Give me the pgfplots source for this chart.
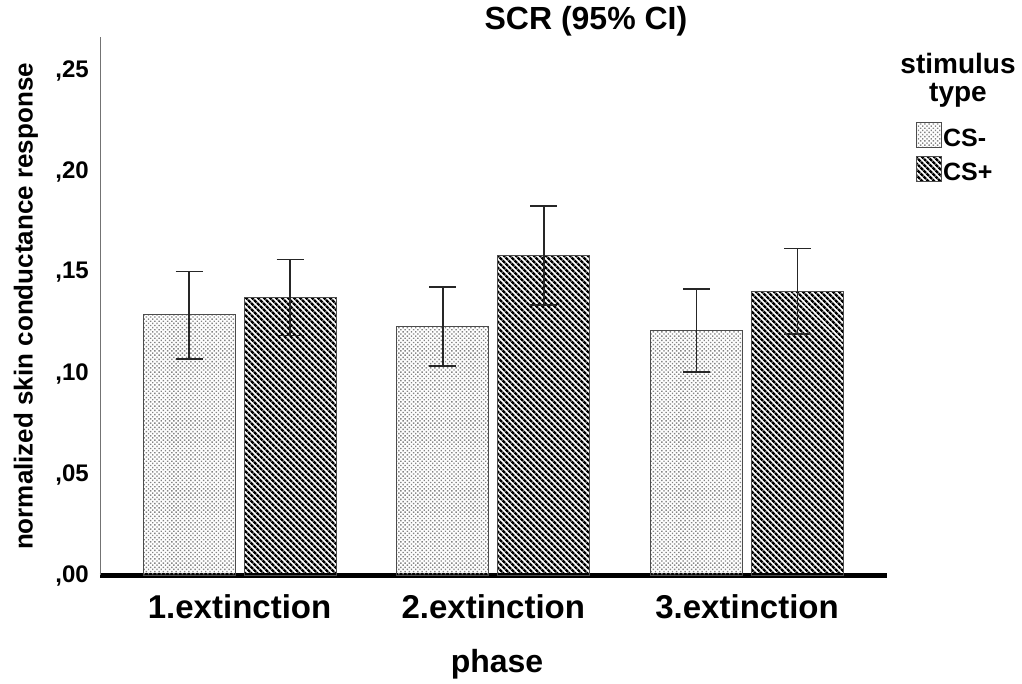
\documentclass[border=0pt]{standalone}
\usepackage{pgfplots}
\pgfplotsset{compat=1.18}
\usepackage{fontspec}
\setmainfont{Liberation Sans}
\usetikzlibrary{patterns.meta}

% bar fills for the two stimulus types
\tikzset{
  csminus/.style={draw=black!70, line width=1pt,
    pattern={Dots[distance=3pt, radius=1pt, angle=45]}, pattern color=black!48},
  csplus/.style={draw=black!70, line width=1pt,
    pattern={Lines[angle=-45, distance=4pt, line width=2.6pt]}, pattern color=black},
}
% square legend swatch
\pgfplotsset{
  boxlegend/.style={legend image code/.code={\draw[##1] (0pt,-1pt) rectangle (25pt,24pt);}},
}

\begin{document}
\begin{tikzpicture}
\useasboundingbox (-100pt,-108.5pt) rectangle (922pt,575.5pt);
\begin{axis}[
  at={(0pt,0pt)}, anchor=south west,
  scale only axis, width=787pt, height=538pt,
  xmin=0.45, xmax=3.5515, ymin=0, ymax=0.26634,
  ybar=9pt, bar width=92pt,
  axis x line=bottom, axis y line=left,
  x axis line style={-, line width=4.5pt, black},
  y axis line style={-, line width=0.9pt, black!55},
  major tick length=0pt,
  xtick={1,2,3},
  xticklabels={{\textbf{1.extinction}},{\textbf{2.extinction}},{\textbf{3.extinction}}},
  xticklabel style={font=\bfseries\fontsize{33}{38}\selectfont, anchor=base, yshift=-43.5pt},
  ytick={0,0.05,0.10,0.15,0.20,0.25},
  yticklabels={{\textbf{,00}},{\textbf{,05}},{\textbf{,10}},{\textbf{,15}},{\textbf{,20}},{\textbf{,25}}},
  yticklabel style={font=\bfseries\fontsize{24}{28}\selectfont, inner sep=0pt, xshift=-11pt},
  every axis y label/.style={at={(axis description cs:-0.094,0.5)}, rotate=90, anchor=center},
  ylabel={\textbf{normalized skin conductance response}},
  ylabel style={font=\bfseries\fontsize{26}{30}\selectfont},
  every axis x label/.style={at={(axis description cs:0.5045,-0.1794)}, anchor=base},
  xlabel={\textbf{phase}},
  xlabel style={font=\bfseries\fontsize{32}{36}\selectfont},
  title={\textbf{SCR (95\% CI)}},
  title style={at={(axis description cs:0.6175,1)}, anchor=base, yshift=1.5pt,
    font=\bfseries\fontsize{32}{36}\selectfont},
  legend style={at={(axis description cs:1.0370,0.8430)}, anchor=north west,
    draw=none, fill=none, inner sep=0pt, outer sep=0pt, row sep=7pt,
    font=\bfseries\fontsize{25}{28}\selectfont,
    nodes={inner sep=1pt}, cells={anchor=base west},
    /tikz/every even column/.style={column sep=1pt}},
  error bars/y dir=both, error bars/y explicit,
  error bars/error bar style={draw=black!85, line width=1.5pt},
  error bars/error mark=|,
  error bars/error mark options={draw=black!85, line width=1.5pt, mark size=13.5pt},
]
\addplot[csminus, boxlegend]
  coordinates {
    (1,0.1290) += (0,0.0214) -= (0,0.0217)
    (2,0.1232) += (0,0.0195) -= (0,0.0195)
    (3,0.1215) += (0,0.0203) -= (0,0.0208)
  };
\addlegendentry{CS-}
\addplot[csplus, boxlegend]
  coordinates {
    (1,0.1377) += (0,0.0188) -= (0,0.0188)
    (2,0.1583) += (0,0.0246) -= (0,0.0245)
    (3,0.1407) += (0,0.0211) -= (0,0.0211)
  };
\addlegendentry{CS+}
\end{axis}
\node[anchor=base, font=\bfseries\fontsize{28}{32}\selectfont] at (858pt,501.5pt) {stimulus};
\node[anchor=base, font=\bfseries\fontsize{28}{32}\selectfont] at (858pt,473.5pt) {type};
\end{tikzpicture}
\end{document}
